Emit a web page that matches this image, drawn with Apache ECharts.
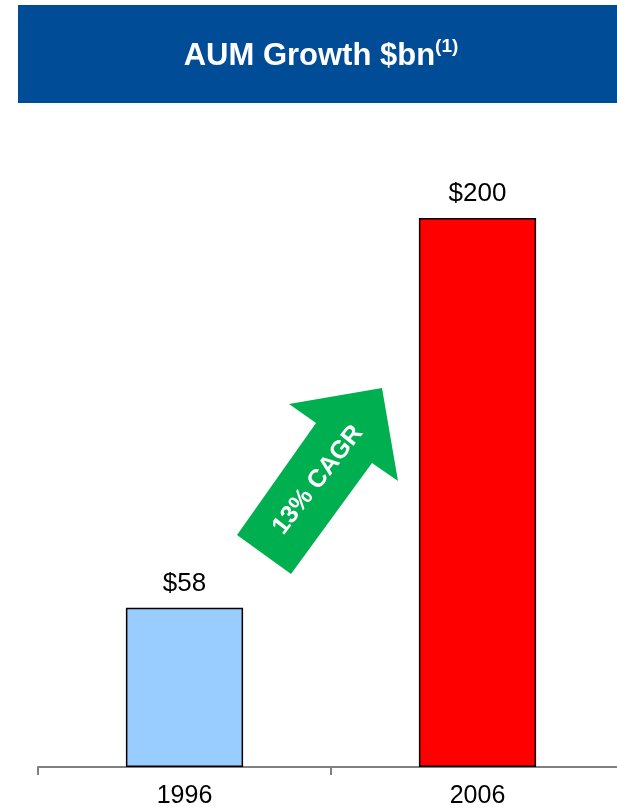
<!DOCTYPE html>
<html><head><meta charset="utf-8">
<script src="https://cdn.jsdelivr.net/npm/echarts@6/dist/echarts.min.js"></script>
<style>html,body{margin:0;padding:0;background:#fff}#c{width:617px;height:809px}</style>
</head><body><div id="c"></div>
<script>
const categories = ['1996', '2006'];
const aumValues = [58, 200];
const valueLabels = ['$58', '$200'];
const barColors = ['#99CCFF', '#FF0000'];
const titleText = 'AUM Growth $bn';
const titleNote = '(1)';
const arrowText = '13% CAGR';

const FONT = 'Liberation Sans, Arial, sans-serif';
const chart = echarts.init(document.getElementById('c'));
chart.setOption({
  animation: false,
  textStyle: { fontFamily: FONT },
  grid: { left: 38, right: -7, top: 218, bottom: 42, outerBoundsMode: 'none', containLabel: false },
  xAxis: {
    type: 'category', data: categories,
    axisLine: { lineStyle: { color: '#808080', width: 2 } },
    axisTick: { show: true, length: 8, inside: false, lineStyle: { color: '#808080', width: 2 } },
    axisLabel: { color: '#000', fontSize: 25, margin: 17, fontFamily: FONT }
  },
  yAxis: { type: 'value', min: 0, max: 200, show: false, splitLine: { show: false } },
  series: [{
    type: 'bar', barWidth: '40%',
    data: aumValues.map((v, i) => ({ value: v, itemStyle: { color: barColors[i] } })),
    itemStyle: { borderColor: '#000', borderWidth: 1.5 },
    label: {
      show: true, position: 'top', distance: 11, color: '#000', fontSize: 26,
      fontFamily: FONT,
      formatter: p => valueLabels[p.dataIndex]
    }
  }],
  graphic: [
    { type: 'rect', shape: { x: 18, y: 5, width: 620, height: 98 }, style: { fill: '#004C97' }, z: 0 },
    {
      type: 'text', x: 321, y: 56, z: 2,
      style: {
        text: '{t|' + titleText + '}{s|' + titleNote + '}',
        align: 'center', verticalAlign: 'middle',
        rich: {
          t: { fontSize: 31, fontWeight: 'bold', fill: '#fff', fontFamily: FONT },
          s: { fontSize: 19, fontWeight: 'bold', fill: '#fff', fontFamily: FONT, verticalAlign: 'top', padding: [0, 0, 18, 0] }
        }
      }
    },
    {
      type: 'polygon', z: 5,
      shape: { points: [[237, 535], [316, 423], [289, 404], [382, 388], [398, 481], [372, 463], [291, 574]] },
      style: { fill: '#00B050' }
    },
    {
      type: 'text', x: 318, y: 480, z: 6, rotation: 52 * Math.PI / 180,
      style: {
        text: arrowText, align: 'center', verticalAlign: 'middle',
        fill: '#fff', fontSize: 25, fontWeight: 'bold', fontFamily: FONT
      }
    }
  ]
});
</script></body></html>
